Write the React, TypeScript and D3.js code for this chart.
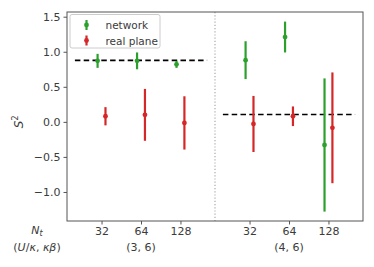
import React, { useEffect, useRef } from "react";
import * as d3 from "d3";

// tick labels and group labels
const ntLabels = ["32", "64", "128"];
const groupLabels = ["(3, 6)", "(4, 6)"];

// S^2 estimates per group (values for Nt = 32, 64, 128)
const networkMean = [[0.87, 0.87, 0.82], [0.88, 1.21, -0.33]];
const networkErr = [[0.1, 0.12, 0.05], [0.27, 0.22, 0.95]];
const planeMean = [[0.08, 0.1, -0.015], [-0.03, 0.08, -0.085]];
const planeErr = [[0.13, 0.37, 0.38], [0.4, 0.14, 0.79]];
const reference = [0.877, 0.106];

const yTicks = [-1.0, -0.5, 0.0, 0.5, 1.0, 1.5];

function App() {
  const ref = useRef<SVGSVGElement>(null);

  useEffect(() => {
    const svg = d3.select(ref.current);
    svg.selectAll("*").remove();

    const margin = { top: 12, right: 11, bottom: 46, left: 67 };
    const W = 374, H = 267;
    const width = W - margin.left - margin.right;
    const height = H - margin.top - margin.bottom;

    // slot positions along x: group 0 at 0..2, group 1 shifted past the divider
    const groupStart = [0.875, 4.625];
    const divider = 3.75;
    const x = d3.scaleLinear().domain([0, 7.5]).range([0, width]);
    const y = d3.scaleLinear().domain([-1.414, 1.567]).range([height, 0]);
    const off = 0.1;

    const g = svg.append("g").attr("transform", `translate(${margin.left},${margin.top})`);
    const font = "DejaVu Sans, sans-serif";
    const txt = "#3b3b3b";

    // divider
    g.append("line")
      .attr("x1", x(divider)).attr("x2", x(divider))
      .attr("y1", 0).attr("y2", height)
      .attr("stroke", "#aaaaaa").attr("stroke-width", 1.2)
      .attr("stroke-dasharray", "1.2,2");

    // reference dashed lines
    const spans = [[0.2, 3.55], [3.95, 7.3]];
    reference.forEach((v, i) => {
      g.append("line")
        .attr("x1", x(spans[i][0])).attr("x2", x(spans[i][1]))
        .attr("y1", y(v)).attr("y2", y(v))
        .attr("stroke", "#000").attr("stroke-width", 1.6)
        .attr("stroke-dasharray", "5.5,3.3");
    });

    const drawSeries = (means: number[][], errs: number[][], dx: number, color: string) => {
      means.forEach((row, gi) => {
        row.forEach((m, k) => {
          const cx = x(groupStart[gi] + k + dx);
          const e = errs[gi][k];
          g.append("line")
            .attr("x1", cx).attr("x2", cx)
            .attr("y1", y(m + e)).attr("y2", y(m - e))
            .attr("stroke", color).attr("stroke-width", 2.2);
          g.append("circle")
            .attr("cx", cx).attr("cy", y(m)).attr("r", 2.4)
            .attr("fill", color);
        });
      });
    };
    drawSeries(networkMean, networkErr, -off, "#2ca02c");
    drawSeries(planeMean, planeErr, off, "#d62728");

    // frame
    g.append("rect")
      .attr("width", width).attr("height", height)
      .attr("fill", "none").attr("stroke", "#555").attr("stroke-width", 1);

    // y axis
    const yAxis = g.append("g").call(
      d3.axisLeft(y).tickValues(yTicks).tickSize(3.5).tickPadding(3)
        .tickFormat(d => (+d).toFixed(1).replace("-", "\u2212"))
    );
    yAxis.select(".domain").remove();
    yAxis.selectAll("line").attr("stroke", "#555");
    yAxis.selectAll("text").attr("font-family", font).attr("font-size", 11).attr("fill", txt);

    // x axis
    const xTicks = groupStart.flatMap(s => [0, 1, 2].map(k => s + k));
    const xAxis = g.append("g").attr("transform", `translate(0,${height})`).call(
      d3.axisBottom(x).tickValues(xTicks).tickSize(3.5).tickPadding(3)
        .tickFormat((_, i) => ntLabels[i % 3])
    );
    xAxis.select(".domain").remove();
    xAxis.selectAll("line").attr("stroke", "#555");
    xAxis.selectAll("text").attr("font-family", font).attr("font-size", 11).attr("fill", txt);

    groupLabels.forEach((lab, i) => {
      g.append("text")
        .attr("x", x(groupStart[i] + 1)).attr("y", height + 30)
        .attr("text-anchor", "middle")
        .attr("font-family", font).attr("font-size", 11).attr("fill", txt)
        .text(lab);
    });

    // row labels on the left
    const nt = svg.append("text")
      .attr("x", 37).attr("y", 234).attr("text-anchor", "middle")
      .attr("font-family", font).attr("font-size", 11).attr("fill", txt);
    nt.append("tspan").attr("font-style", "italic").text("N");
    nt.append("tspan").attr("font-style", "italic").attr("font-size", 8).attr("dy", 2).text("t");

    const ul = svg.append("text")
      .attr("x", 37).attr("y", 251).attr("text-anchor", "middle")
      .attr("font-family", font).attr("font-size", 11).attr("fill", txt);
    ul.append("tspan").text("(");
    ul.append("tspan").attr("font-style", "italic").text("U");
    ul.append("tspan").text("/");
    ul.append("tspan").attr("font-style", "italic").text("κ");
    ul.append("tspan").text(", ");
    ul.append("tspan").attr("font-style", "italic").text("κβ");
    ul.append("tspan").text(")");

    // y label
    const yl = svg.append("text")
      .attr("transform", `translate(23,${margin.top + y(0)}) rotate(-90)`)
      .attr("text-anchor", "middle")
      .attr("font-family", font).attr("font-size", 12).attr("fill", txt);
    yl.append("tspan").attr("font-style", "italic").text("S");
    yl.append("tspan").attr("font-size", 8).attr("dy", -5).text("2");

    // legend
    const leg = g.append("g").attr("transform", `translate(${70 - margin.left},${14.5 - margin.top})`);
    leg.append("rect")
      .attr("width", 90).attr("height", 33.5).attr("rx", 2)
      .attr("fill", "#fff").attr("fill-opacity", 0.8)
      .attr("stroke", "#cccccc").attr("stroke-width", 1);
    const items = [{ label: "network", color: "#2ca02c" }, { label: "real plane", color: "#d62728" }];
    items.forEach((it, i) => {
      const cy = 10.5 + i * 15.5;
      leg.append("line")
        .attr("x1", 16.5).attr("x2", 16.5).attr("y1", cy - 5).attr("y2", cy + 5)
        .attr("stroke", it.color).attr("stroke-width", 2.2);
      leg.append("circle").attr("cx", 16.5).attr("cy", cy).attr("r", 2.4).attr("fill", it.color);
      leg.append("text")
        .attr("x", 35.5).attr("y", cy + 4)
        .attr("font-family", font).attr("font-size", 10.5).attr("fill", txt)
        .text(it.label);
    });
  }, []);

  return (
    <svg
      ref={ref}
      width={374}
      height={267}
      style={{ position: "absolute", left: 0, top: 0, background: "#fff" }}
    />
  );
}

export default App;
